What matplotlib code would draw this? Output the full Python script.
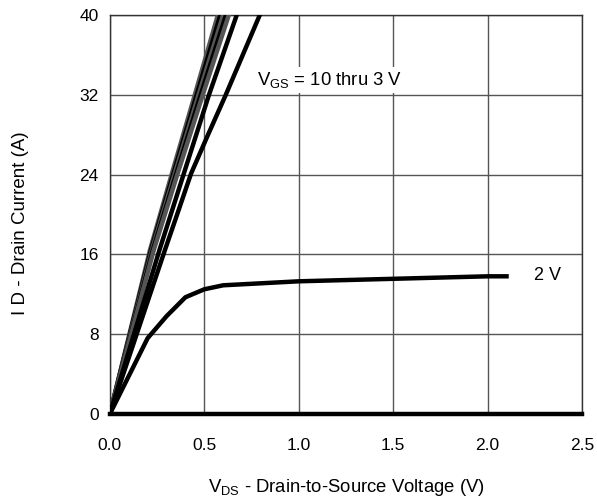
import matplotlib
matplotlib.use("Agg")
import matplotlib.pyplot as plt

plt.rcParams['font.family'] = ['Liberation Sans', 'DejaVu Sans']
plt.rcParams['mathtext.default'] = 'regular'

# Current levels at which the VGS = 10 thru 4 V curves were read
i_levels = [0, 16.4, 24, 32, 40]

# V_DS read at those current levels for VGS = 10, 9, 8, 7, 6, 4 V
v_fan = [
    [0, 0.212, 0.327, 0.450, 0.572],
    [0, 0.217, 0.335, 0.460, 0.585],
    [0, 0.222, 0.342, 0.470, 0.600],
    [0, 0.227, 0.350, 0.481, 0.615],
    [0, 0.232, 0.357, 0.492, 0.630],
    [0, 0.262, 0.390, 0.525, 0.672],
]
fan_colors = ['#555555', '#000000', '#555555', '#000000', '#555555', '#000000']

# VGS = 3 V
v_3 = [0, 0.291, 0.358, 0.430, 0.520, 0.614, 0.794]
i_3 = [0, 16.4, 20.1, 24.1, 28.0, 32.0, 40]

# VGS = 2 V
v_2 = [0, 0.1, 0.2, 0.3, 0.4, 0.5, 0.6, 0.8, 1.0, 1.2, 1.4, 1.6, 1.8, 2.0, 2.1]
i_2 = [0, 3.8, 7.6, 9.8, 11.7, 12.5, 12.9, 13.1, 13.3, 13.4, 13.5, 13.6, 13.7, 13.8, 13.8]

# VGS = 1 V (off)
v_1 = [0, 2.5]
i_1 = [0, 0]

xticks = [0.0, 0.5, 1.0, 1.5, 2.0, 2.5]
xticklabels = ['0.0', '0.5', '1.0', '1.5', '2.0', '2.5']
yticks = [0, 8, 16, 24, 32, 40]

fig = plt.figure(figsize=(5.97, 4.97), dpi=100)
ax = fig.add_axes([0.184, 0.167, 0.791, 0.803])

LW = 3.2
for v, c in zip(v_fan, fan_colors):
    ax.plot(v, i_levels, color=c, lw=LW, zorder=3)
ax.plot(v_3, i_3, color='black', lw=LW, zorder=3)
ax.plot(v_2, i_2, color='black', lw=LW, zorder=3)
ax.plot(v_1, i_1, color='black', lw=LW, zorder=4, clip_on=False)

ax.set_xlim(0, 2.5)
ax.set_ylim(0, 40)
ax.set_xticks(xticks)
ax.set_xticklabels(xticklabels)
ax.set_yticks(yticks)
ax.grid(True, color='#555555', lw=1)
ax.set_axisbelow(True)
ax.tick_params(length=0, labelsize=12.5)
ax.tick_params(axis='x', pad=17)
ax.tick_params(axis='y', pad=8)
for s in ax.spines.values():
    s.set_color('#333333')
    s.set_linewidth(1)

ax.set_xlabel('V$_{DS}$ - Drain-to-Source Voltage (V)', fontsize=13.3, va='center')
ax.xaxis.set_label_coords(0.5, -0.183)
ax.set_ylabel('I D - Drain Current (A)', fontsize=13.5, va='center')
ax.yaxis.set_label_coords(-0.19, 0.477)

ax.text(1.165, 33.5, 'V$_{GS}$ = 10 thru 3 V', fontsize=13.3, ha='center', va='center',
        bbox=dict(facecolor='white', edgecolor='none', pad=2), zorder=5)
ax.text(2.315, 13.9, '2 V', fontsize=13, ha='center', va='center', zorder=5)

fig.savefig('out.png', dpi=100)
